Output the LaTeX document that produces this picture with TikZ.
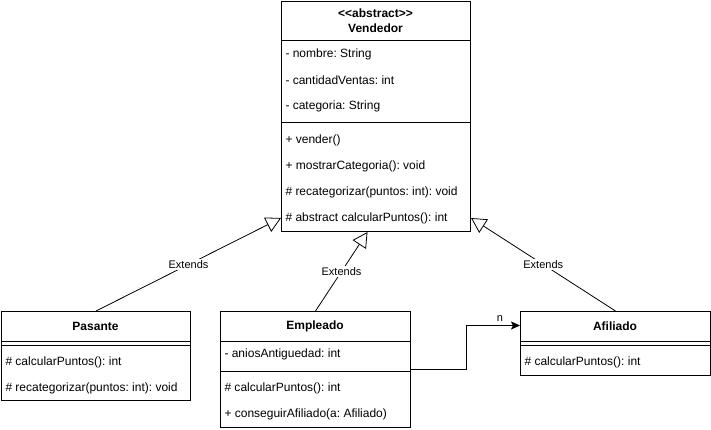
\documentclass[tikz,border=0pt]{standalone}
\usepackage{fontspec}
\setmainfont{Liberation Sans}
\usetikzlibrary{arrows.meta}
\frenchspacing
\begin{document}
\begin{tikzpicture}[x=1pt,y=-1pt,line width=1pt,
  box/.style={draw, line width=1pt, anchor=north west, inner sep=0pt},
  title/.style={font=\fontsize{12}{15}\selectfont\bfseries, align=center, inner sep=0pt},
  member/.style={anchor=west, inner sep=0pt, font=\fontsize{12}{14}\selectfont},
  ext/.style={-{Triangle[open, length=15pt, width=16pt, fill=white]}, line width=0.8pt},
  assoc/.style={-{Stealth[length=9pt, width=8pt, inset=2pt]}, line width=0.8pt},
  lbl/.style={fill=white, font=\fontsize{11}{13}\selectfont, inner sep=1pt}]
\useasboundingbox (0,0) rectangle (711,430);

% Vendedor
\node[box, minimum width=189pt, minimum height=230pt] (vend) at (281,1) {};
\node[title] (vendt) at (375.5,21) {{<}{<}abstract{>}{>}\\Vendedor};
\draw (281,41) -- (470,41);
\draw (281,123) -- (470,123);
\node[member] (v1) at (285,54) {- nombre: String};
\node[member] (v2) at (285,80) {- cantidadVentas: int};
\node[member] (v3) at (285,106) {- categoria: String};
\node[member] (v4) at (285,140) {+ vender()};
\node[member] (v5) at (285,166) {+ mostrarCategoria(): void};
\node[member] (v6) at (285,192) {\# recategorizar(puntos: int): void};
\node[member] (v7) at (285,218) {\# abstract calcularPuntos(): int};

% Pasante
\node[box, minimum width=189pt, minimum height=89pt] (pas) at (1,311) {};
\node[title] (past) at (95.5,326) {Pasante};
\draw (1,341) -- (190,341);
\draw (1,345) -- (190,345);
\node[member] (p1) at (5,362) {\# calcularPuntos(): int};
\node[member] (p2) at (5,388) {\# recategorizar(puntos: int): void};

% Empleado
\node[box, minimum width=190pt, minimum height=116pt] (emp) at (220,311) {};
\node[title] (empt) at (315,326) {Empleado};
\draw (220,341) -- (410,341);
\draw (220,371) -- (410,371);
\node[member] (e1) at (224,354) {- aniosAntiguedad: int};
\node[member] (e2) at (224,388) {\# calcularPuntos(): int};
\node[member] (e3) at (224,414) {+ conseguirAfiliado(a: Afiliado)};

% Afiliado
\node[box, minimum width=190pt, minimum height=64pt] (afi) at (520,311) {};
\node[title] (afit) at (615,326) {Afiliado};
\draw (520,341) -- (710,341);
\draw (520,345) -- (710,345);
\node[member] (a1) at (524,362) {\# calcularPuntos(): int};

% connector endpoints
\coordinate (tp) at ([yshift=14pt]vend.south west);
\coordinate (te) at ([xshift=-8.5pt]vend.south);
\coordinate (ta) at ([yshift=14pt]vend.south east);
\coordinate (tafi) at ([yshift=18pt]afi.west);

\draw[ext] (pas.north) -- node[lbl] (l1) {Extends} (tp);
\draw[ext] (emp.north) -- node[lbl] (l2) {Extends} (te);
\draw[ext] (afi.north) -- node[lbl] (l3) {Extends} (ta);

\draw[assoc] (emp.east) -- ++(55,0) |- (tafi);
\node[font=\fontsize{11}{13}\selectfont, inner sep=0pt] (nl) at ([xshift=-20pt,yshift=7pt]tafi) {n};
\end{tikzpicture}
\end{document}
